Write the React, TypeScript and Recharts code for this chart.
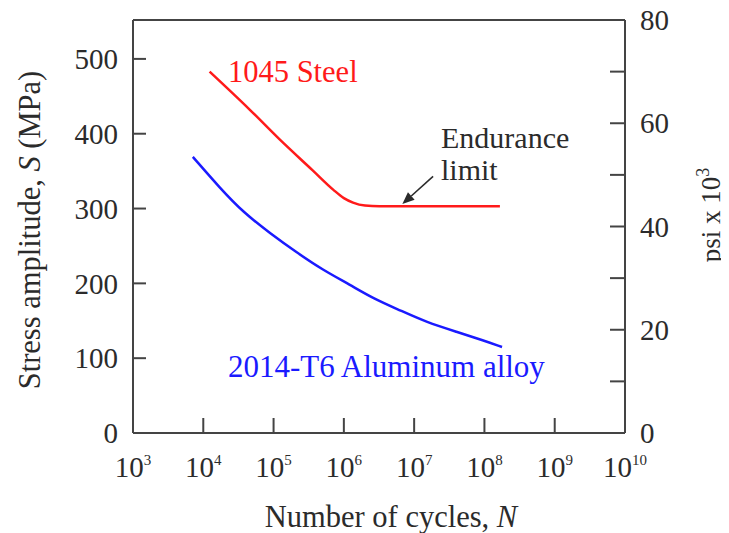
import { LineChart, Line, XAxis, YAxis, ReferenceLine } from "recharts";

// S-N curves (cycles N, stress amplitude S in MPa)
const steelCycles = [1.23e4, 4.6e4, 1.23e5, 3.6e5, 7.1e5, 1.0e6, 1.35e6, 2.0e6, 3.2e6, 1.66e8];
const steelStress = [483, 432, 392, 351, 325, 314, 308, 304, 303, 303];

const aluminumCycles = [
  7.1e3, 1.74e4, 3.7e4, 8.9e4, 2.15e5, 5.0e5, 1.23e6, 2.6e6, 6.3e6, 1.5e7, 4.1e7, 9.5e7, 1.78e8,
];
const aluminumStress = [369, 327, 295, 267, 241, 218, 198, 180, 164, 148, 135, 124, 115];

const cycleTicks = [1e3, 1e4, 1e5, 1e6, 1e7, 1e8, 1e9, 1e10];
const mpaTicks = [0, 100, 200, 300, 400, 500];
const ksiTicks = [0, 10, 20, 30, 40, 50, 60, 70, 80];

// 80 ksi ~ 552 MPa, so both y axes share the same top
const MPA_MAX = 552;
const KSI_MAX = 80;

// "Endurance limit" arrow, in data units
const arrowTail = { x: 1.86e7, y: 343 };
const arrowHead = { x: 6.8e6, y: 306 };

const steelData = steelCycles.map((n, i) => ({ n, s: steelStress[i] }));
const aluminumData = aluminumCycles.map((n, i) => ({ n, s: aluminumStress[i] }));

const FONT = "'Liberation Serif', 'DejaVu Serif', serif";
const INK = "#2b2b2b";
const AXIS = "#444";
const RED = "#ff1a1a";
const BLUE = "#1a1aff";

function CycleTick(props: any) {
  const { x, y, payload } = props;
  const exp = Math.round(Math.log10(payload.value));
  const edge = exp === 3 || exp === 10;
  return (
    <g>
      {!edge && <line x1={x} x2={x} y1={y} y2={y - 15} stroke={AXIS} strokeWidth={2} />}
      <text x={x} y={y + 44} textAnchor="middle" fontFamily={FONT} fontSize={29} fill={INK}>
        10
        <tspan dy={-12} fontSize={15}>
          {exp}
        </tspan>
      </text>
    </g>
  );
}

function MpaTick(props: any) {
  const { x, y, payload } = props;
  const v = payload.value;
  return (
    <g>
      {v > 0 && <line x1={x} x2={x + 13} y1={y} y2={y} stroke={AXIS} strokeWidth={2} />}
      <text x={x - 15} y={y} dy="0.35em" textAnchor="end" fontFamily={FONT} fontSize={29} fill={INK}>
        {v}
      </text>
    </g>
  );
}

function KsiTick(props: any) {
  const { x, y, payload } = props;
  const v = payload.value;
  return (
    <g>
      {v > 0 && v < KSI_MAX && (
        <line x1={x} x2={x - 15} y1={y} y2={y} stroke={AXIS} strokeWidth={2} />
      )}
      {v % 20 === 0 && (
        <text x={x + 15} y={y} dy="0.35em" textAnchor="start" fontFamily={FONT} fontSize={29} fill={INK}>
          {v}
        </text>
      )}
    </g>
  );
}

function Arrow(props: any) {
  const { x1, y1, x2, y2 } = props;
  const ang = Math.atan2(y2 - y1, x2 - x1);
  const len = 12;
  const w = 5;
  const bx = x2 - len * Math.cos(ang);
  const by = y2 - len * Math.sin(ang);
  const px = -Math.sin(ang) * w;
  const py = Math.cos(ang) * w;
  return (
    <g>
      <line x1={x1} y1={y1} x2={bx} y2={by} stroke={INK} strokeWidth={1.6} />
      <polygon points={`${x2},${y2} ${bx + px},${by + py} ${bx - px},${by - py}`} fill={INK} />
    </g>
  );
}

export default function App() {
  // pulled up over the body margin so the top tick label has room
  return (
    <div style={{ position: "relative", width: 721, height: 533, marginTop: -8 }}>
      <LineChart width={721} height={533} margin={{ top: 20, right: 0, bottom: 0, left: 0 }}>
        <XAxis
          dataKey="n"
          type="number"
          scale="log"
          domain={[1e3, 1e10]}
          ticks={cycleTicks}
          interval={0}
          allowDataOverflow
          height={100}
          tickSize={0}
          tickMargin={0}
          tickLine={false}
          tick={<CycleTick />}
          axisLine={{ stroke: AXIS, strokeWidth: 2 }}
        />
        <YAxis
          yAxisId="mpa"
          type="number"
          domain={[0, MPA_MAX]}
          ticks={mpaTicks}
          interval={0}
          allowDataOverflow
          width={125}
          tickSize={0}
          tickMargin={0}
          tickLine={false}
          tick={<MpaTick />}
          axisLine={{ stroke: AXIS, strokeWidth: 2 }}
        />
        <YAxis
          yAxisId="ksi"
          orientation="right"
          type="number"
          domain={[0, KSI_MAX]}
          ticks={ksiTicks}
          interval={0}
          allowDataOverflow
          width={104}
          tickSize={0}
          tickMargin={0}
          tickLine={false}
          tick={<KsiTick />}
          axisLine={{ stroke: AXIS, strokeWidth: 2 }}
        />
        <ReferenceLine yAxisId="mpa" y={MPA_MAX} stroke={AXIS} strokeWidth={2} />
        <Line
          yAxisId="mpa"
          data={steelData}
          dataKey="s"
          type="monotone"
          stroke={RED}
          strokeWidth={2.5}
          dot={false}
          isAnimationActive={false}
        />
        <Line
          yAxisId="mpa"
          data={aluminumData}
          dataKey="s"
          type="basis"
          stroke={BLUE}
          strokeWidth={2.5}
          dot={false}
          isAnimationActive={false}
        />
        <ReferenceLine yAxisId="mpa" segment={[arrowTail, arrowHead]} shape={<Arrow />} />
      </LineChart>
      <svg
        width={721}
        height={533}
        style={{ position: "absolute", left: 0, top: 0, overflow: "visible", pointerEvents: "none" }}
        fontFamily={FONT}
      >
        <text x={220} y={82} fontSize={30.5} fill={RED}>
          1045 Steel
        </text>
        <text x={433} y={148} fontSize={30} fill={INK}>
          Endurance
        </text>
        <text x={433} y={180} fontSize={30} fill={INK}>
          limit
        </text>
        <text x={220} y={377} fontSize={31} fill={BLUE}>
          2014-T6 Aluminum alloy
        </text>
        <text x={383} y={527} textAnchor="middle" fontSize={30.5} fill={INK}>
          Number of cycles, <tspan fontStyle="italic">N</tspan>
        </text>
        <text x={32} y={230} textAnchor="middle" fontSize={30.5} fill={INK} transform="rotate(-90 32 230)">
          Stress amplitude, <tspan fontStyle="italic">S</tspan> (MPa)
        </text>
        <text x={712} y={215} textAnchor="middle" fontSize={27} fill={INK} transform="rotate(-90 712 215)">
          psi x 10
          <tspan dy={-11} fontSize={18}>
            3
          </tspan>
        </text>
      </svg>
    </div>
  );
}
